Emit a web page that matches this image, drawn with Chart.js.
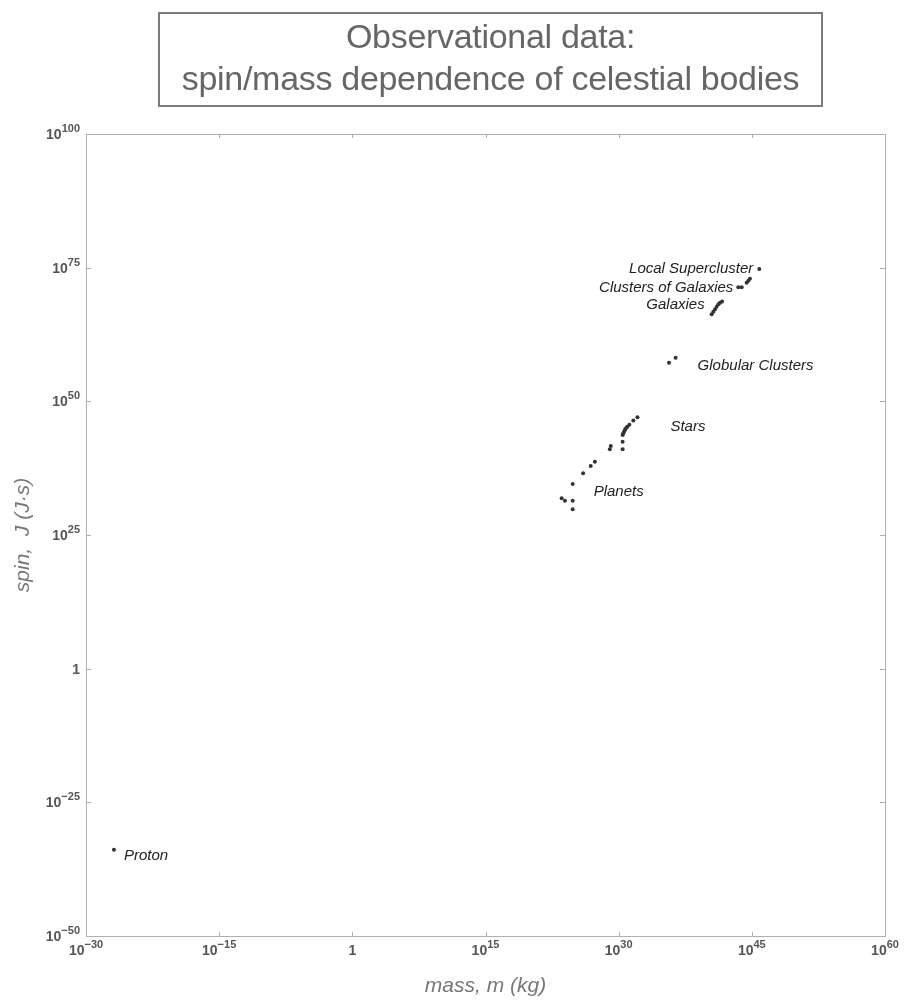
<!DOCTYPE html>
<html>
<head>
<meta charset="utf-8">
<script src="https://cdn.jsdelivr.net/npm/chart.js@4.4.1/dist/chart.umd.min.js"></script>
<style>
  body { margin: 0; background: #fff; font-family: "Liberation Sans", Arial, sans-serif; }
  #wrap { position: relative; width: 907px; height: 1001px; }
  #title {
    position: absolute; left: 158px; top: 12px; width: 661px; height: 90px;
    border: 2px solid #7a7a7a; color: #666; font-size: 34px; text-align: center;
    line-height: 42px; padding-top: 1px; letter-spacing: -0.3px;
  }
  canvas { position: absolute; left: 0; top: 0; }
</style>
</head>
<body>
<div id="wrap">
  <canvas id="chart" width="907" height="1001"></canvas>
  <div id="title">Observational data:<br>spin/mass dependence of celestial bodies</div>
</div>
<script>
// mass in kg, spin in J*s
const protonMass = [1.4e-27];
const protonSpin = [1.3e-34];

const planetMass = [3.8e23, 8.9e23, 6.6e24, 6.6e24, 6.6e24, 1.0e26, 7.1e26, 2.1e27];
const planetSpin = [7.4e31, 2.6e31, 2.6e31, 6.5e29, 3.5e34, 3.5e36, 7.9e37, 5.1e38];

const starMass = [1.0e29, 1.3e29, 2.8e30, 2.8e30, 2.8e30, 3.3e30, 4.0e30, 5.1e30, 6.6e30, 9.3e30, 1.6e31, 4.5e31, 1.3e32];
const starSpin = [1.1e41, 4.5e41, 1.1e41, 2.8e42, 5.0e43, 1.1e44, 2.1e44, 4.5e44, 9.1e44, 1.8e45, 4.0e45, 2.5e46, 1.0e47];

const globularMass = [4.7e35, 2.6e36];
const globularSpin = [1.7e57, 1.4e58];

const galaxyMass = [3.0e40, 4.6e40, 7.1e40, 1.1e41, 1.7e41, 2.6e41, 4.4e41];
const galaxySpin = [1.9e66, 5.9e66, 1.7e67, 5.0e67, 1.4e68, 2.8e68, 4.7e68];

const clusterMass = [3.0e43, 7.2e43, 2.6e44, 4.0e44, 6.2e44];
const clusterSpin = [2.1e71, 2.1e71, 1.5e72, 3.6e72, 8.7e72];

const superclusterMass = [6.9e45];
const superclusterSpin = [5.6e74];

const xTickExp = [-30, -15, 0, 15, 30, 45, 60];
const yTickExp = [-50, -25, 0, 25, 50, 75, 100];

const FONT = '"Liberation Sans", Arial, sans-serif';

function points(ms, js) {
  return ms.map((m, i) => ({ x: m, y: js[i] }));
}

function group(label, ms, js) {
  return {
    label,
    data: points(ms, js),
    pointRadius: 2,
    pointHoverRadius: 2,
    pointBackgroundColor: '#333',
    pointBorderWidth: 0,
    showLine: false,
  };
}

// where each group's name sits, relative to one of its points (pixels)
const labelPlace = {
  'Proton': { ref: 0, dx: 10, dy: 6, align: 'left' },
  'Planets': { ref: 4, dx: 21, dy: 8, align: 'left' },
  'Stars': { ref: 12, dx: 33, dy: 9, align: 'left' },
  'Globular Clusters': { ref: 1, dx: 22, dy: 8, align: 'left' },
  'Galaxies': { ref: 0, dx: -7, dy: -9, align: 'right' },
  'Clusters of Galaxies': { ref: 0, dx: -5, dy: 0, align: 'right' },
  'Local Supercluster': { ref: 0, dx: -6, dy: 0, align: 'right' },
};

function drawPower(ctx, exp, x, y, align) {
  ctx.fillStyle = '#555';
  ctx.textBaseline = 'middle';
  if (exp === 0) {
    ctx.font = `bold 14px ${FONT}`;
    ctx.textAlign = align;
    ctx.fillText('1', x, y);
    return;
  }
  const sup = exp < 0 ? '\u2212' + Math.abs(exp) : String(exp);
  ctx.font = `bold 14px ${FONT}`;
  const wb = ctx.measureText('10').width;
  ctx.font = `bold 11px ${FONT}`;
  const ws = ctx.measureText(sup).width;
  const total = wb + ws;
  let left = x;
  if (align === 'right') left = x - total;
  else if (align === 'center') left = x - total / 2;
  ctx.textAlign = 'left';
  ctx.font = `bold 14px ${FONT}`;
  ctx.fillText('10', left, y);
  ctx.font = `bold 11px ${FONT}`;
  ctx.fillText(sup, left + wb, y - 6);
}

const decorations = {
  id: 'decorations',
  afterDatasetsDraw(chart) {
    const { ctx, chartArea: a, scales } = chart;
    const xs = scales.x, ys = scales.y;
    ctx.save();

    // frame
    ctx.strokeStyle = '#b0b0b0';
    ctx.lineWidth = 1;
    ctx.strokeRect(a.left + 0.5, a.top + 0.5, a.right - a.left, a.bottom - a.top);

    // inward ticks on all four sides
    ctx.beginPath();
    xTickExp.forEach((e) => {
      const px = Math.round(xs.getPixelForValue(Math.pow(10, e))) + 0.5;
      ctx.moveTo(px, a.bottom); ctx.lineTo(px, a.bottom - 4);
      ctx.moveTo(px, a.top); ctx.lineTo(px, a.top + 4);
    });
    yTickExp.forEach((e) => {
      const py = Math.round(ys.getPixelForValue(Math.pow(10, e))) + 0.5;
      ctx.moveTo(a.left, py); ctx.lineTo(a.left + 5, py);
      ctx.moveTo(a.right, py); ctx.lineTo(a.right - 5, py);
    });
    ctx.stroke();

    // tick labels
    xTickExp.forEach((e) => {
      drawPower(ctx, e, xs.getPixelForValue(Math.pow(10, e)), a.bottom + 15, 'center');
    });
    yTickExp.forEach((e) => {
      drawPower(ctx, e, a.left - 6, ys.getPixelForValue(Math.pow(10, e)) + 1, 'right');
    });

    // axis titles
    ctx.fillStyle = '#777';
    ctx.font = `italic 21px ${FONT}`;
    ctx.textAlign = 'center';
    ctx.textBaseline = 'middle';
    ctx.fillText('mass, m (kg)', (a.left + a.right) / 2, a.bottom + 50);
    ctx.save();
    ctx.translate(23, (a.top + a.bottom) / 2);
    ctx.rotate(-Math.PI / 2);
    ctx.fillText('spin,  J (J\u00b7s)', 0, 0);
    ctx.restore();

    // group names
    ctx.fillStyle = '#222';
    ctx.font = `italic 15px ${FONT}`;
    ctx.textBaseline = 'middle';
    chart.data.datasets.forEach((ds, i) => {
      const place = labelPlace[ds.label];
      if (!place) return;
      const pt = chart.getDatasetMeta(i).data[place.ref];
      ctx.textAlign = place.align;
      ctx.fillText(ds.label, pt.x + place.dx, pt.y + place.dy);
    });

    ctx.restore();
  },
};

new Chart(document.getElementById('chart'), {
  type: 'scatter',
  data: {
    datasets: [
      group('Proton', protonMass, protonSpin),
      group('Planets', planetMass, planetSpin),
      group('Stars', starMass, starSpin),
      group('Globular Clusters', globularMass, globularSpin),
      group('Galaxies', galaxyMass, galaxySpin),
      group('Clusters of Galaxies', clusterMass, clusterSpin),
      group('Local Supercluster', superclusterMass, superclusterSpin),
    ],
  },
  options: {
    responsive: false,
    animation: false,
    events: [],
    layout: { padding: { top: 134, right: 22, left: 0, bottom: 0 } },
    plugins: { legend: { display: false }, tooltip: { enabled: false } },
    scales: {
      x: {
        type: 'logarithmic',
        min: 1e-30,
        max: 1e60,
        grid: { display: false },
        border: { display: false },
        ticks: { display: false },
        afterFit: (s) => { s.height = 65; },
      },
      y: {
        type: 'logarithmic',
        min: 1e-50,
        max: 1e100,
        grid: { display: false },
        border: { display: false },
        ticks: { display: false },
        afterFit: (s) => { s.width = 86; },
      },
    },
  },
  plugins: [decorations],
});
</script>
</body>
</html>
